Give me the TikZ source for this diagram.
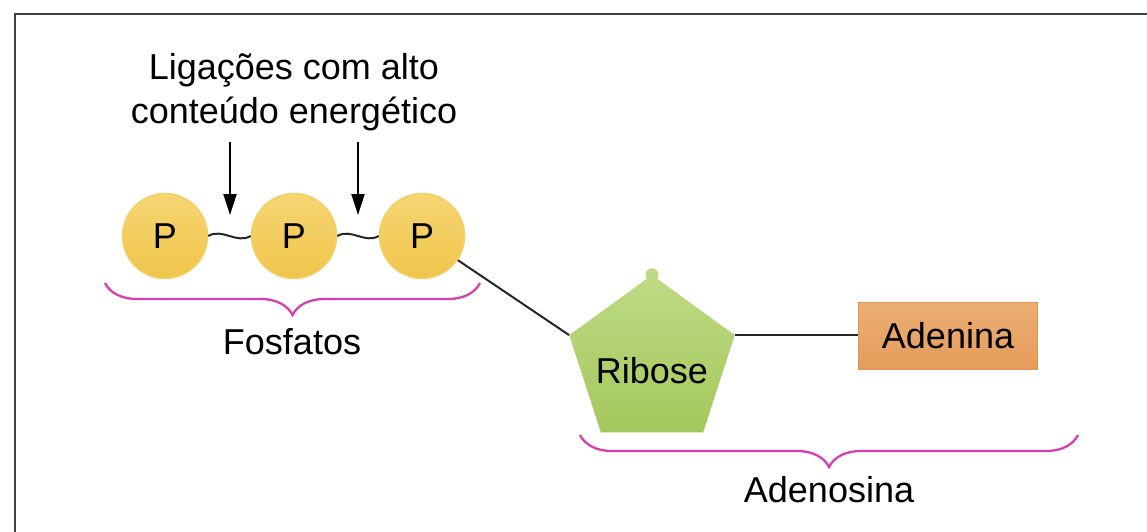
\documentclass[tikz,border=0pt]{standalone}
\usepackage{fontspec}
\setmainfont{Liberation Sans}
\usetikzlibrary{arrows.meta,shapes.geometric,decorations.pathreplacing}

\definecolor{phoslight}{RGB}{246,213,115}
\definecolor{phosdark}{RGB}{239,197,74}
\definecolor{phosedge}{RGB}{244,208,104}
\definecolor{riblight}{RGB}{190,218,132}
\definecolor{ribdark}{RGB}{164,200,92}
\definecolor{adelight}{RGB}{236,174,114}
\definecolor{adedark}{RGB}{228,156,92}
\definecolor{adeedge}{RGB}{226,150,86}
\definecolor{bracepink}{RGB}{216,62,172}

\begin{document}
\begin{tikzpicture}[x=1pt, y=-1pt, font=\fontsize{36}{44}\selectfont,
	phos/.style={circle, minimum size=85pt, inner sep=0pt, draw=phosedge, line width=1.5pt,
		top color=phoslight, bottom color=phosdark},
	bond/.style={line width=2pt, black!85},
	pointer/.style={line width=2pt, -{Triangle[length=21pt,width=13pt]}},
	curly/.style={decorate, decoration={brace, mirror, amplitude=32pt}, draw=bracepink, line width=2.3pt}]
	\useasboundingbox (0,0) rectangle (1147,532);
	\draw[line width=2.5pt, black!75] (15,14) rectangle (1170,560);

	% phosphate chain
	\node[phos] (p1) at (165,236) {P};
	\node[phos] (p2) at (294,236) {P};
	\node[phos] (p3) at (422,236) {P};
	\draw[bond] (p1.east) to[out=30, in=210] (p2.west);
	\draw[bond] (p2.east) to[out=30, in=210] (p3.west);

	\node[align=center] (bonds) at (294,92) {Ligações com alto\\conteúdo energético};
	\coordinate (a1) at (230,142);
	\coordinate (b1) at (230,215);
	\coordinate (a2) at (358,142);
	\coordinate (b2) at (358,215);
	\draw[pointer] (a1) -- (b1);
	\draw[pointer] (a2) -- (b2);

	% sugar and base (text kept out of the pentagon's size)
	\node[regular polygon, regular polygon sides=5, minimum size=174pt, inner sep=0pt,
		top color=riblight, bottom color=ribdark] (rib) at (652,362)
		{\makebox[0pt]{\raisebox{-21pt}[0pt][0pt]{Ribose}}};
	\fill[riblight] (rib.corner 1) circle (6.5pt);
	\node[minimum width=179pt, minimum height=67pt, inner sep=0pt, draw=adeedge, line width=1.5pt,
		top color=adelight, bottom color=adedark] (ade) at (948,336) {Adenina};
	\draw[bond] (p3) -- (rib.corner 2);
	\draw[bond] (rib.corner 5) -- (rib.corner 5 -| ade.west);

	% groupings
	\coordinate (f1) at (105,283);
	\coordinate (f2) at (480,283);
	\draw[curly] (f1) -- (f2);
	\node (fosf) at (292,342) {Fosfatos};
	\coordinate (d1) at (580,435);
	\coordinate (d2) at (1078,435);
	\draw[curly] (d1) -- (d2);
	\node (aden) at (829,490) {Adenosina};
\end{tikzpicture}
\end{document}
